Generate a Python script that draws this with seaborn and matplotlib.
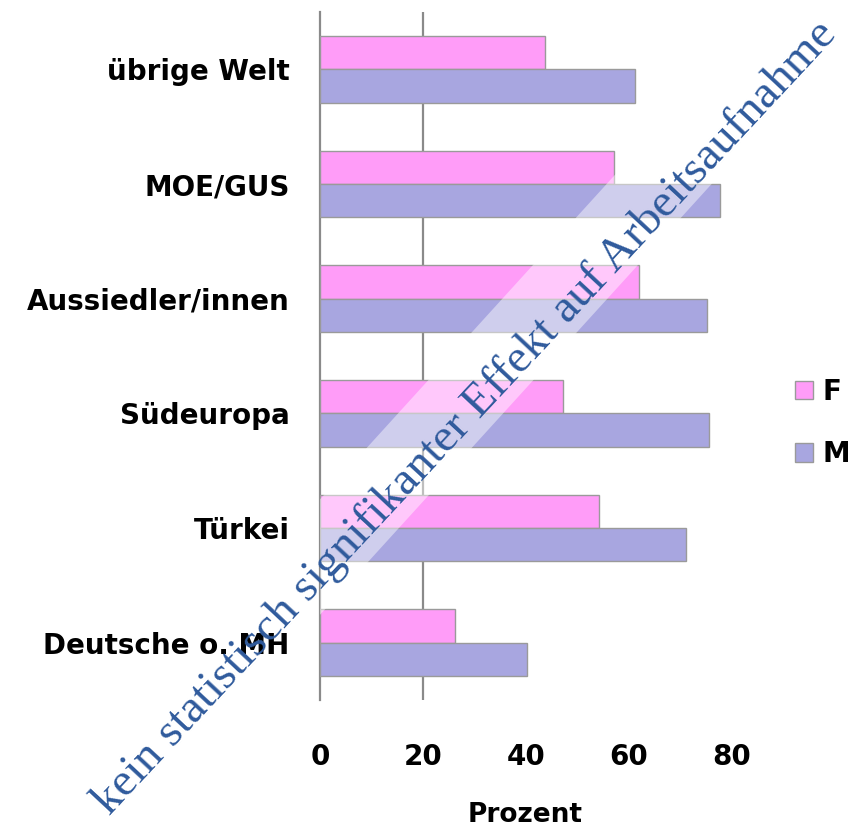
import numpy as np
import pandas as pd
import matplotlib
matplotlib.use("Agg")
import matplotlib.pyplot as plt
import seaborn as sns
from matplotlib.patches import Polygon, Patch

# Data
categories = ["übrige Welt", "MOE/GUS", "Aussiedler/innen", "Südeuropa", "Türkei", "Deutsche o. MH"]
values_f = [43.7, 57.1, 62.1, 47.2, 54.2, 26.3]
values_m = [61.2, 77.7, 75.2, 75.6, 71.2, 40.3]
x_ticks = [0, 20, 40, 60, 80]
watermark = "kein statistisch signifikanter Effekt auf Arbeitsaufnahme"

df = pd.DataFrame({
    "Gruppe": categories * 2,
    "Prozent": values_f + values_m,
    "Geschlecht": ["F"] * len(categories) + ["M"] * len(categories),
})

sns.set_style("white")
plt.rcParams["font.family"] = ["DejaVu Sans"]
plt.rcParams["text.color"] = "black"
plt.rcParams["xtick.color"] = "black"
plt.rcParams["ytick.color"] = "black"
plt.rcParams["axes.labelcolor"] = "black"

col_f = "#FF9CF8"
col_m = "#A8A6E0"

W, H = 858, 832
fig = plt.figure(figsize=(W / 100, H / 100), dpi=100)
ax = fig.add_axes([320 / W, 1 - 700 / H, (783 - 320) / W, (700 - 12) / H])

sns.barplot(data=df, y="Gruppe", x="Prozent", hue="Geschlecht", order=categories,
            hue_order=["F", "M"], palette={"F": col_f, "M": col_m}, orient="h",
            width=0.58, saturation=1, edgecolor="#9a9a9a", linewidth=1.0, ax=ax,
            legend=False, zorder=3)

ax.set_xlim(0, 90)
ax.set_ylim(len(categories) - 0.5, -0.5)
ax.axvline(20, color="#8a8a8a", lw=1.6, zorder=1)

for s in ["top", "right", "bottom"]:
    ax.spines[s].set_visible(False)
ax.spines["left"].set_color("#8a8a8a")
ax.spines["left"].set_linewidth(1.6)

ax.set_xticks(x_ticks)
ax.set_xticklabels([str(t) for t in x_ticks], fontsize=20, fontweight="bold")
ax.tick_params(axis="x", length=0, pad=31)
ax.set_yticks(range(len(categories)))
ax.set_yticklabels(categories, fontsize=20, fontweight="bold")
ax.tick_params(axis="y", which="major", length=0, pad=22)
ax.set_yticks(np.arange(-0.5, len(categories)), minor=True)
ax.tick_params(axis="y", which="minor", length=6, width=1.6, color="#8a8a8a", direction="out")
ax.set_ylabel("")
ax.set_xlabel("Prozent", fontsize=19, fontweight="bold")
ax.xaxis.set_label_coords((525 - 320) / 463, -(815 - 700) / 688, transform=ax.transAxes)
ax.xaxis.label.set_va("center")

# translucent diagonal band
band = [(788, 100), (288, 650), (183, 650), (683, 100)]
band = [(x / W, 1 - y / H) for x, y in band]
poly = Polygon(band, closed=True, transform=fig.transFigure, facecolor="white",
               alpha=0.45, edgecolor="none", zorder=4)
poly.set_clip_path(ax.patch)
ax.add_patch(poly)

handles = [Patch(facecolor=col_f, edgecolor="#9a9a9a"), Patch(facecolor=col_m, edgecolor="#9a9a9a")]
leg = fig.legend(handles, ["F", "M"], loc="center left", bbox_to_anchor=(795 / W, 1 - 423 / H),
                 frameon=False, borderpad=0, borderaxespad=0, handlelength=0.65,
                 handleheight=0.65, handletextpad=0.35, labelspacing=1.25,
                 prop={"size": 20, "weight": "bold"})

fig.text(465 / W, 1 - 418 / H, watermark, rotation=47, rotation_mode="anchor",
         ha="center", va="center", fontsize=34, color="#2F5A9C",
         family=["Liberation Serif", "DejaVu Serif"], zorder=10)

fig.savefig("out.png", dpi=100)
